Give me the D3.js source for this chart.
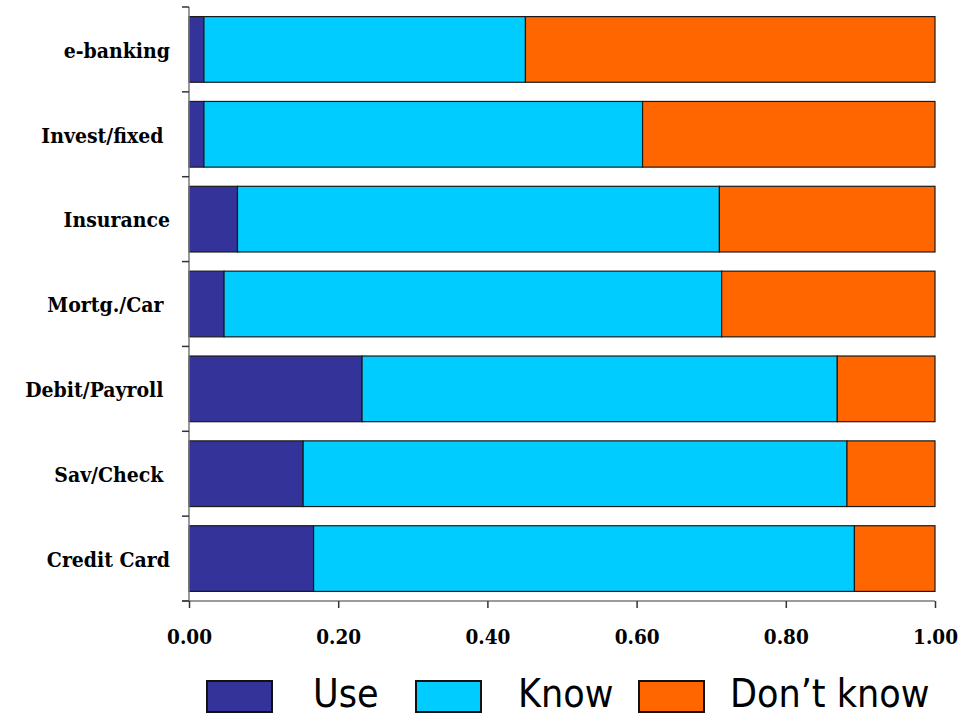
<!DOCTYPE html>
<html>
<head>
<meta charset="utf-8">
<script src="https://cdn.jsdelivr.net/npm/d3@7"></script>
<style>
  html, body { margin: 0; padding: 0; background: #fff; }
  svg { display: block; }
  .cat { font-family: "DejaVu Serif Condensed", "DejaVu Serif", serif; font-stretch: condensed; font-weight: bold; font-size: 21px; white-space: pre; }
  .tick-lab { font-family: "DejaVu Serif Condensed", "DejaVu Serif", serif; font-stretch: condensed; font-weight: bold; font-size: 20.5px; }
  .leg { font-family: "DejaVu Sans Condensed", "DejaVu Sans", sans-serif; font-stretch: condensed; font-size: 39px; }
</style>
</head>
<body>
<svg id="chart" width="978" height="717"></svg>
<script>
// Product categories, top to bottom
const categories = ["e-banking", "Invest/fixed", "Insurance", "Mortg./Car", "Debit/Payroll", "Sav/Check", "Credit Card"];
// Trailing spaces kept as in the source labels
const categoryLabels = ["e-banking", "Invest/fixed ", "Insurance", "Mortg./Car ", "Debit/Payroll ", "Sav/Check ", "Credit Card"];
// Share of respondents per category
const useValues     = [0.020, 0.020, 0.065, 0.047, 0.232, 0.153, 0.167];
const knowValues    = [0.431, 0.588, 0.646, 0.667, 0.637, 0.729, 0.725];
const dontKnowValues= [0.549, 0.392, 0.289, 0.286, 0.131, 0.118, 0.108];
const seriesNames = ["Use", "Know", "Don\u2019t know"];
const seriesColors = ["#333399", "#00CCFF", "#FF6600"];
const xTicks = [0, 0.2, 0.4, 0.6, 0.8, 1.0];

const svg = d3.select("#chart");
const plotLeft = 189, plotRight = 935, plotTop = 7, plotBottom = 601;

const x = d3.scaleLinear().domain([0, 1]).range([plotLeft, plotRight]);
const y = d3.scaleBand().domain(categories).range([plotTop, plotBottom]).paddingInner(0.226).paddingOuter(0.113);

const rows = categories.map((c, i) => ({ cat: c, Use: useValues[i], Know: knowValues[i], "Don\u2019t know": dontKnowValues[i] }));
const stacked = d3.stack().keys(seriesNames)(rows);

// Bars
const g = svg.append("g");
stacked.forEach((layer, k) => {
  g.selectAll(null).data(layer).enter().append("rect")
    .attr("x", d => x(d[0]))
    .attr("y", d => y(d.data.cat))
    .attr("width", d => x(d[1]) - x(d[0]))
    .attr("height", y.bandwidth())
    .attr("fill", seriesColors[k])
    .attr("stroke", "#1a1a1a")
    .attr("stroke-width", 1.2);
});

// Axes
const axisColor = "#7a7a7a";
const ax = svg.append("g");
ax.append("line").attr("x1", plotLeft).attr("x2", plotLeft).attr("y1", plotTop).attr("y2", plotBottom)
  .attr("stroke", axisColor).attr("stroke-width", 1.5);
ax.append("line").attr("x1", plotLeft - 7).attr("x2", plotRight).attr("y1", plotBottom).attr("y2", plotBottom)
  .attr("stroke", axisColor).attr("stroke-width", 1.5);
// category boundary ticks
d3.range(categories.length + 1).forEach(i => {
  const yy = plotTop + i * (plotBottom - plotTop) / categories.length;
  ax.append("line").attr("x1", plotLeft - 7).attr("x2", plotLeft).attr("y1", yy).attr("y2", yy)
    .attr("stroke", "#333").attr("stroke-width", 1.5);
});
// value ticks
const xAxis = d3.axisBottom(x).tickValues(xTicks).tickSize(7).tickSizeOuter(0).tickFormat(d3.format(".2f"));
const xg = svg.append("g").attr("transform", `translate(0,${plotBottom})`).call(xAxis);
xg.select(".domain").remove();
xg.attr("font-family", null).attr("font-size", null);
xg.selectAll(".tick line").attr("stroke", "#333").attr("stroke-width", 1.5);
xg.selectAll(".tick text").attr("class", "tick-lab").attr("fill", "#000").attr("dy", null).attr("y", 43);

// Category labels
svg.append("g").selectAll("text").data(categories).enter().append("text")
  .attr("class", "cat")
  .attr("x", 170)
  .attr("y", d => y(d) + y.bandwidth() / 2 + 1)
  .attr("dy", "0.35em")
  .attr("text-anchor", "end")
  .text((d, i) => categoryLabels[i]);

// Legend
const legendSwatchX = [207, 416, 639];
const legendTextX = [313, 518, 730];
const lg = svg.append("g");
seriesNames.forEach((name, k) => {
  lg.append("rect").attr("x", legendSwatchX[k]).attr("y", 681).attr("width", 65).attr("height", 31)
    .attr("fill", seriesColors[k]).attr("stroke", "#111").attr("stroke-width", 2);
  lg.append("text").attr("class", "leg").attr("x", legendTextX[k]).attr("y", 707).text(name);
});
</script>
</body>
</html>
